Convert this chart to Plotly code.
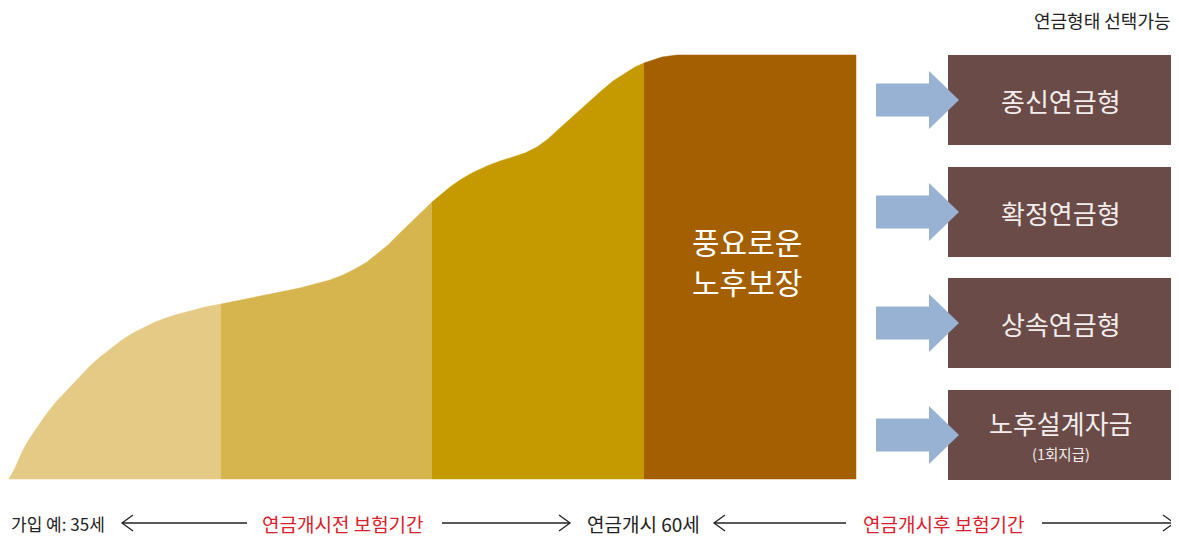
import plotly.graph_objects as go

# ---- data ----
profile_x = [9, 15, 22, 28, 36, 45, 55, 67, 80, 90, 100, 112, 122, 133, 145, 155, 163, 175, 190, 205, 221,
             240, 260, 280, 300, 315, 330, 343, 355, 367, 377, 388, 400, 410, 420, 432,
             440, 450, 460, 472, 487, 500, 513, 525, 537, 548, 560, 573, 587, 600, 613, 625, 635, 644,
             652, 662, 677, 690, 856]
profile_y = [479, 468, 452, 441, 429, 416, 403, 390, 376, 366, 357, 348, 340, 333, 327, 322, 319, 315, 311, 307, 304,
             300, 296, 292, 288, 284, 280, 275, 269, 262, 254, 245, 233, 223, 213, 202,
             195, 187, 180, 173, 166, 161, 157, 153, 147, 139, 128, 116, 103, 92, 81, 73, 67, 63,
             60, 57, 55, 55, 55]
stage_edges = [9, 221, 432, 644, 856]
stage_colors = ["#E4CA84", "#D6B54F", "#C49A00", "#A45F00"]
baseline = 479

center_text = ["풍요로운", "노후보장"]
header_text = "연금형태 선택가능"
option_labels = ["종신연금형", "확정연금형", "상속연금형", "노후설계자금"]
option_sub = ["", "", "", "(1회지급)"]
option_centers = [100, 212, 323, 435]

bottom_labels = ["가입 예: 35세", "연금개시전 보험기간", "연금개시 60세", "연금개시후 보험기간"]

# page is offset by the default 8px body margin; map data coords to page pixels
OFF = 8
W, H = 1179, 539
FONT = "Noto Sans CJK KR"
fig = go.Figure()

# stage areas
for i in range(4):
    x0, x1 = stage_edges[i], stage_edges[i + 1]
    xs = [x for x in profile_x if x0 <= x <= x1]
    ys = [profile_y[profile_x.index(x)] for x in xs]
    xs = xs + [x1, x0]
    ys = ys + [baseline, baseline]
    fig.add_trace(go.Scatter(x=xs, y=ys, fill="toself", fillcolor=stage_colors[i],
                             line=dict(width=0.5, color=stage_colors[i]), mode="lines",
                             hoverinfo="skip", showlegend=False))

shapes = []
annotations = []

# option boxes and arrows
box_x0, box_x1, box_h = 948, 1173, 90
for i, cy in enumerate(option_centers):
    shapes.append(dict(type="rect", x0=box_x0, x1=box_x1, y0=cy - box_h / 2, y1=cy + box_h / 2,
                       xref="x", yref="y", fillcolor="#6A4B47", line=dict(width=0), layer="below"))
    ax0, axh, axt = 876, 929, 959
    sh, hh = 16.5, 29
    path = (f"M {ax0},{cy - sh} L {axh},{cy - sh} L {axh},{cy - hh} L {axt},{cy} "
            f"L {axh},{cy + hh} L {axh},{cy + sh} L {ax0},{cy + sh} Z")
    shapes.append(dict(type="path", path=path, xref="x", yref="y", fillcolor="#97B2D3",
                       line=dict(width=0), layer="above"))
    if option_sub[i]:
        annotations.append(dict(x=1061, y=cy - 13, text=option_labels[i], showarrow=False,
                                font=dict(size=26, color="#F3EDED", family=FONT),
                                xanchor="center", yanchor="middle"))
        annotations.append(dict(x=1061, y=cy + 18, text=option_sub[i], showarrow=False,
                                font=dict(size=14.5, color="#F3EDED", family=FONT),
                                xanchor="center", yanchor="middle"))
    else:
        annotations.append(dict(x=1061, y=cy, text=option_labels[i], showarrow=False,
                                font=dict(size=26, color="#F3EDED", family=FONT),
                                xanchor="center", yanchor="middle"))

# center text
annotations.append(dict(x=747, y=241, text=center_text[0], showarrow=False,
                        font=dict(size=30, color="#FFFFFF", family=FONT),
                        xanchor="center", yanchor="middle"))
annotations.append(dict(x=747, y=281, text=center_text[1], showarrow=False,
                        font=dict(size=30, color="#FFFFFF", family=FONT),
                        xanchor="center", yanchor="middle"))

# header
annotations.append(dict(x=1173, y=20, text=header_text, showarrow=False,
                        font=dict(size=18, color="#222222", family=FONT),
                        xanchor="right", yanchor="middle"))

# bottom timeline
ty = 523
annotations.append(dict(x=OFF + 0.5, y=ty, text=bottom_labels[0], showarrow=False,
                        font=dict(size=17, color="#222222", family=FONT),
                        xanchor="left", yanchor="middle"))
annotations.append(dict(x=343, y=ty, text=bottom_labels[1], showarrow=False,
                        font=dict(size=19, color="#D9202B", family=FONT),
                        xanchor="center", yanchor="middle"))
annotations.append(dict(x=643, y=ty, text=bottom_labels[2], showarrow=False,
                        font=dict(size=19, color="#222222", family=FONT),
                        xanchor="center", yanchor="middle"))
annotations.append(dict(x=944, y=ty, text=bottom_labels[3], showarrow=False,
                        font=dict(size=19, color="#D9202B", family=FONT),
                        xanchor="center", yanchor="middle"))

line_style = dict(color="#222222", width=1.3)
for (x0, x1, head) in [(122, 247, "left"), (442, 570, "right"), (714, 846, "left"), (1042, 1174, "right")]:
    shapes.append(dict(type="line", x0=x0, x1=x1, y0=ty, y1=ty, xref="x", yref="y", line=line_style))
    if head == "left":
        p = f"M {x0 + 11},{ty - 8} L {x0},{ty} L {x0 + 11},{ty + 8}"
    else:
        p = f"M {x1 - 11},{ty - 8} L {x1},{ty} L {x1 - 11},{ty + 8}"
    shapes.append(dict(type="path", path=p, xref="x", yref="y", line=line_style))

fig.update_layout(
    width=W - OFF, height=H - OFF, margin=dict(l=0, r=0, t=0, b=0),
    paper_bgcolor="white", plot_bgcolor="white",
    xaxis=dict(range=[OFF, W], visible=False, fixedrange=True),
    yaxis=dict(range=[H, OFF], visible=False, fixedrange=True),
    shapes=shapes, annotations=annotations, showlegend=False,
)
fig.write_html("out.html")
